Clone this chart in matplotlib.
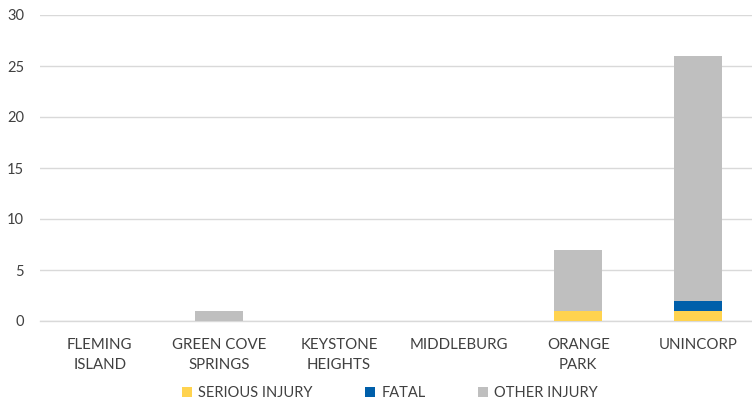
import numpy as np
import matplotlib
matplotlib.use("Agg")
import matplotlib.pyplot as plt

# ======================= data =======================
categories = ["FLEMING\nISLAND", "GREEN COVE\nSPRINGS", "KEYSTONE\nHEIGHTS",
              "MIDDLEBURG", "ORANGE\nPARK", "UNINCORP"]
serious_injury = [0, 0, 0, 0, 1, 1]
fatal = [0, 0, 0, 0, 0, 1]
other_injury = [0, 1, 0, 0, 6, 24]

series_names = ["SERIOUS INJURY", "FATAL", "OTHER INJURY"]
series_colors = ["#FFD34F", "#005FAA", "#BFBFBF"]

plt.rcParams['font.family'] = ['Lato', 'DejaVu Sans']
text_color = "#404040"

fig = plt.figure(figsize=(7.52, 4.05), dpi=100)
ax = fig.add_axes([40 / 752, 84 / 405, 717.6 / 752, 306 / 405])

x = np.arange(len(categories))
bottom = np.zeros(len(categories))
for name, vals, c in zip(series_names, [serious_injury, fatal, other_injury], series_colors):
    ax.bar(x, vals, 0.4, bottom=bottom, color=c, label=name, zorder=3)
    bottom += np.array(vals)

ax.set_xlim(-0.5, len(categories) - 0.5)
ax.set_ylim(0, 30)
ax.set_yticks(range(0, 31, 5))
ax.set_xticks(x)
ax.set_xticklabels(categories, fontsize=10.8, color=text_color, linespacing=1.55)
ax.tick_params(axis='y', labelsize=10.5, colors=text_color, length=0, pad=11.5)
ax.tick_params(axis='x', length=0, pad=12)

ax.grid(axis='y', color="#D9D9D9", linewidth=1.0, zorder=0)
for s in ["top", "right", "left"]:
    ax.spines[s].set_visible(False)
ax.spines["bottom"].set_color("#D9D9D9")
ax.spines["bottom"].set_linewidth(1.0)

leg = fig.legend(loc="center", bbox_to_anchor=(390 / 752, 1 - 393 / 405), ncol=3,
                 frameon=False, fontsize=10.5, handlelength=0.7, handleheight=0.7,
                 handletextpad=0.4, columnspacing=3.6)
for t in leg.get_texts():
    t.set_color(text_color)

fig.savefig("out.png", dpi=100)
